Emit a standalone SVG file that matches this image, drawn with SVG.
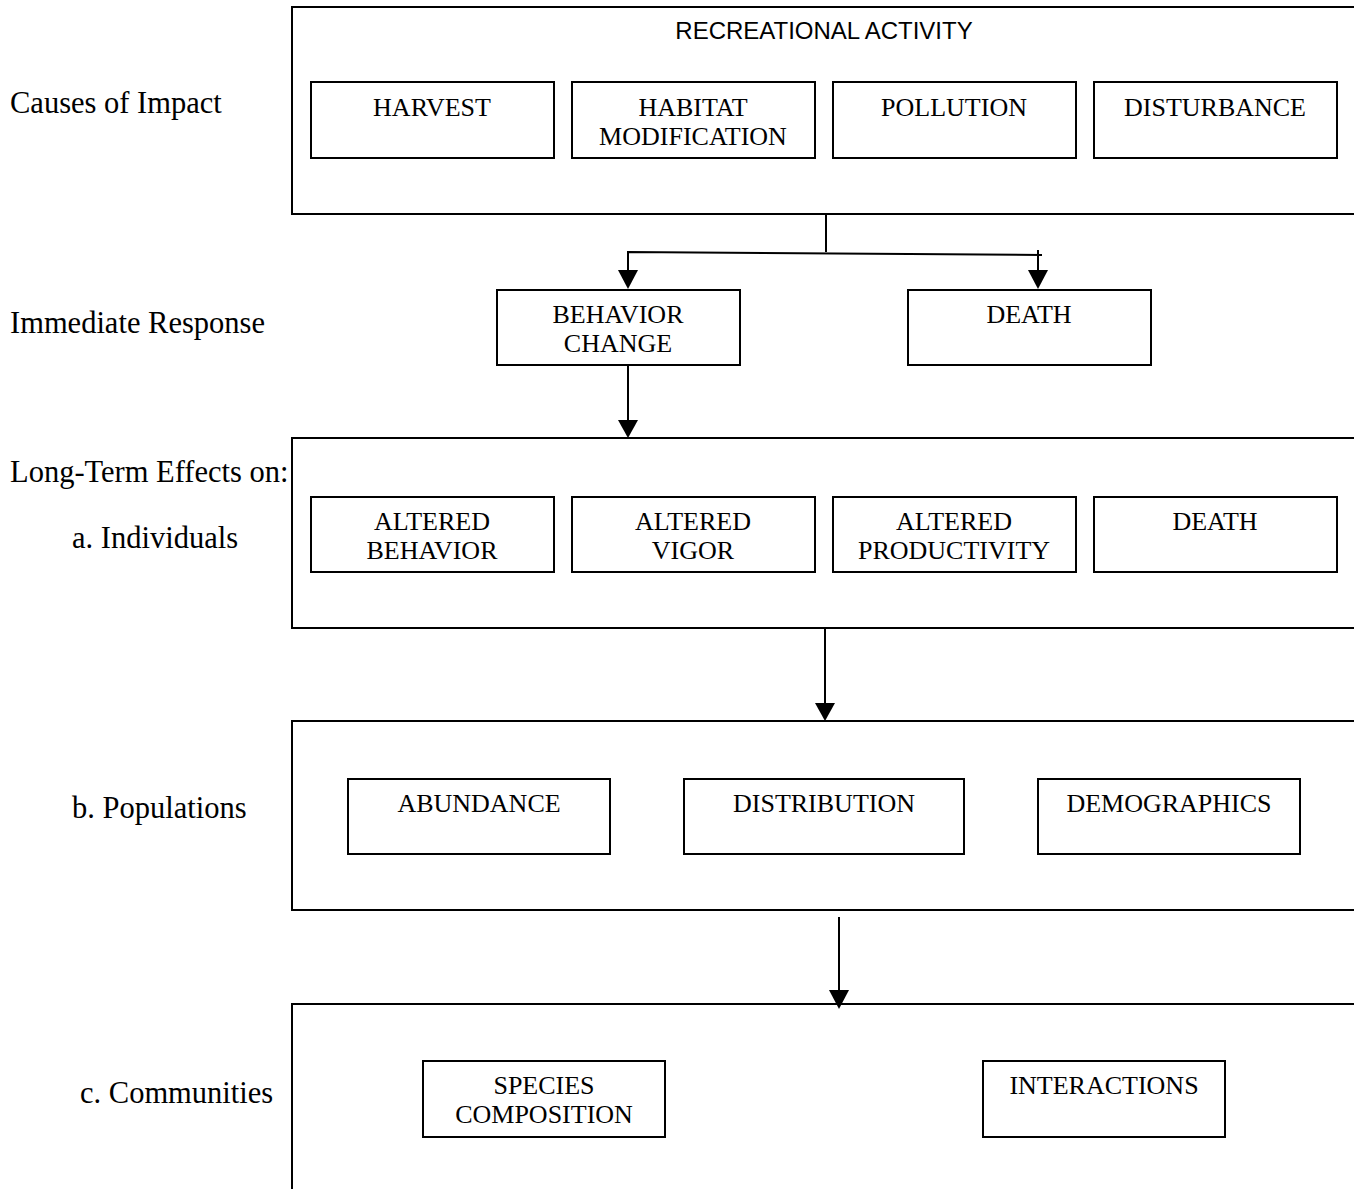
<svg xmlns="http://www.w3.org/2000/svg" width="1354" height="1189" viewBox="0 0 1354 1189">
<style>
.c{fill:none;stroke:#000;stroke-width:2}
.b{fill:#fff;stroke:#000;stroke-width:2}
.t{font-family:"Liberation Serif","Times New Roman",serif;font-size:26px;fill:#000;text-anchor:middle}
.l{font-family:"Liberation Serif","Times New Roman",serif;font-size:30.5px;fill:#000}
.s{font-family:"Liberation Sans",Arial,sans-serif;font-size:24px;fill:#000;text-anchor:middle}
.ln{fill:none;stroke:#000;stroke-width:2}
.ah{fill:#000;stroke:none}
</style>
<rect width="1354" height="1189" fill="#fff"/>
<g id="labels">
<text class="l" x="10" y="113">Causes of Impact</text>
<text class="l" x="10" y="333">Immediate Response</text>
<text class="l" x="10" y="482">Long-Term Effects on:</text>
<text class="l" x="72" y="548">a. Individuals</text>
<text class="l" x="72" y="818">b. Populations</text>
<text class="l" x="80" y="1103">c. Communities</text>
</g>
<g id="causes">
<rect class="c" x="292" y="7" width="1080" height="207"/>
<text class="s" x="824" y="39">RECREATIONAL ACTIVITY</text>
</g>
<g id="harvest"><rect class="b" x="311" y="82" width="243" height="76"/><text class="t" x="432" y="116">HARVEST</text></g>
<g id="habitat"><rect class="b" x="572" y="82" width="243" height="76"/><text class="t" x="693" y="116">HABITAT</text><text class="t" x="693" y="145">MODIFICATION</text></g>
<g id="pollution"><rect class="b" x="833" y="82" width="243" height="76"/><text class="t" x="954" y="116">POLLUTION</text></g>
<g id="disturbance"><rect class="b" x="1094" y="82" width="243" height="76"/><text class="t" x="1215" y="116">DISTURBANCE</text></g>
<g id="behavior"><rect class="b" x="497" y="290" width="243" height="75"/><text class="t" x="618" y="323">BEHAVIOR</text><text class="t" x="618" y="352">CHANGE</text></g>
<g id="death1"><rect class="b" x="908" y="290" width="243" height="75"/><text class="t" x="1029" y="323">DEATH</text></g>
<g id="individuals">
<rect class="c" x="292" y="438" width="1080" height="190"/>
</g>
<g id="altbehavior"><rect class="b" x="311" y="497" width="243" height="75"/><text class="t" x="432" y="530">ALTERED</text><text class="t" x="432" y="559">BEHAVIOR</text></g>
<g id="altvigor"><rect class="b" x="572" y="497" width="243" height="75"/><text class="t" x="693" y="530">ALTERED</text><text class="t" x="693" y="559">VIGOR</text></g>
<g id="altprod"><rect class="b" x="833" y="497" width="243" height="75"/><text class="t" x="954" y="530">ALTERED</text><text class="t" x="954" y="559">PRODUCTIVITY</text></g>
<g id="death2"><rect class="b" x="1094" y="497" width="243" height="75"/><text class="t" x="1215" y="530">DEATH</text></g>
<g id="populations">
<rect class="c" x="292" y="721" width="1080" height="189"/>
</g>
<g id="abundance"><rect class="b" x="348" y="779" width="262" height="75"/><text class="t" x="479" y="812">ABUNDANCE</text></g>
<g id="distribution"><rect class="b" x="684" y="779" width="280" height="75"/><text class="t" x="824" y="812">DISTRIBUTION</text></g>
<g id="demographics"><rect class="b" x="1038" y="779" width="262" height="75"/><text class="t" x="1169" y="812">DEMOGRAPHICS</text></g>
<g id="communities">
<rect class="c" x="292" y="1004" width="1080" height="200"/>
</g>
<g id="species"><rect class="b" x="423" y="1061" width="242" height="76"/><text class="t" x="544" y="1094">SPECIES</text><text class="t" x="544" y="1123">COMPOSITION</text></g>
<g id="interactions"><rect class="b" x="983" y="1061" width="242" height="76"/><text class="t" x="1104" y="1094">INTERACTIONS</text></g>
<g id="connectors">
<path class="ln" d="M826 214V252M628 271V252L1042 255M1038 250V271"/>
<polygon class="ah" points="618,270 638,270 628,289"/>
<polygon class="ah" points="1028,270 1048,270 1038,289"/>
<path class="ln" d="M628 365V421"/>
<polygon class="ah" points="618,420 638,420 628,438"/>
<path class="ln" d="M825 628V704"/>
<polygon class="ah" points="815,703 835,703 825,721"/>
<path class="ln" d="M839 917V992"/>
<polygon class="ah" points="829,990 849,990 839,1009"/>
</g>
</svg>
